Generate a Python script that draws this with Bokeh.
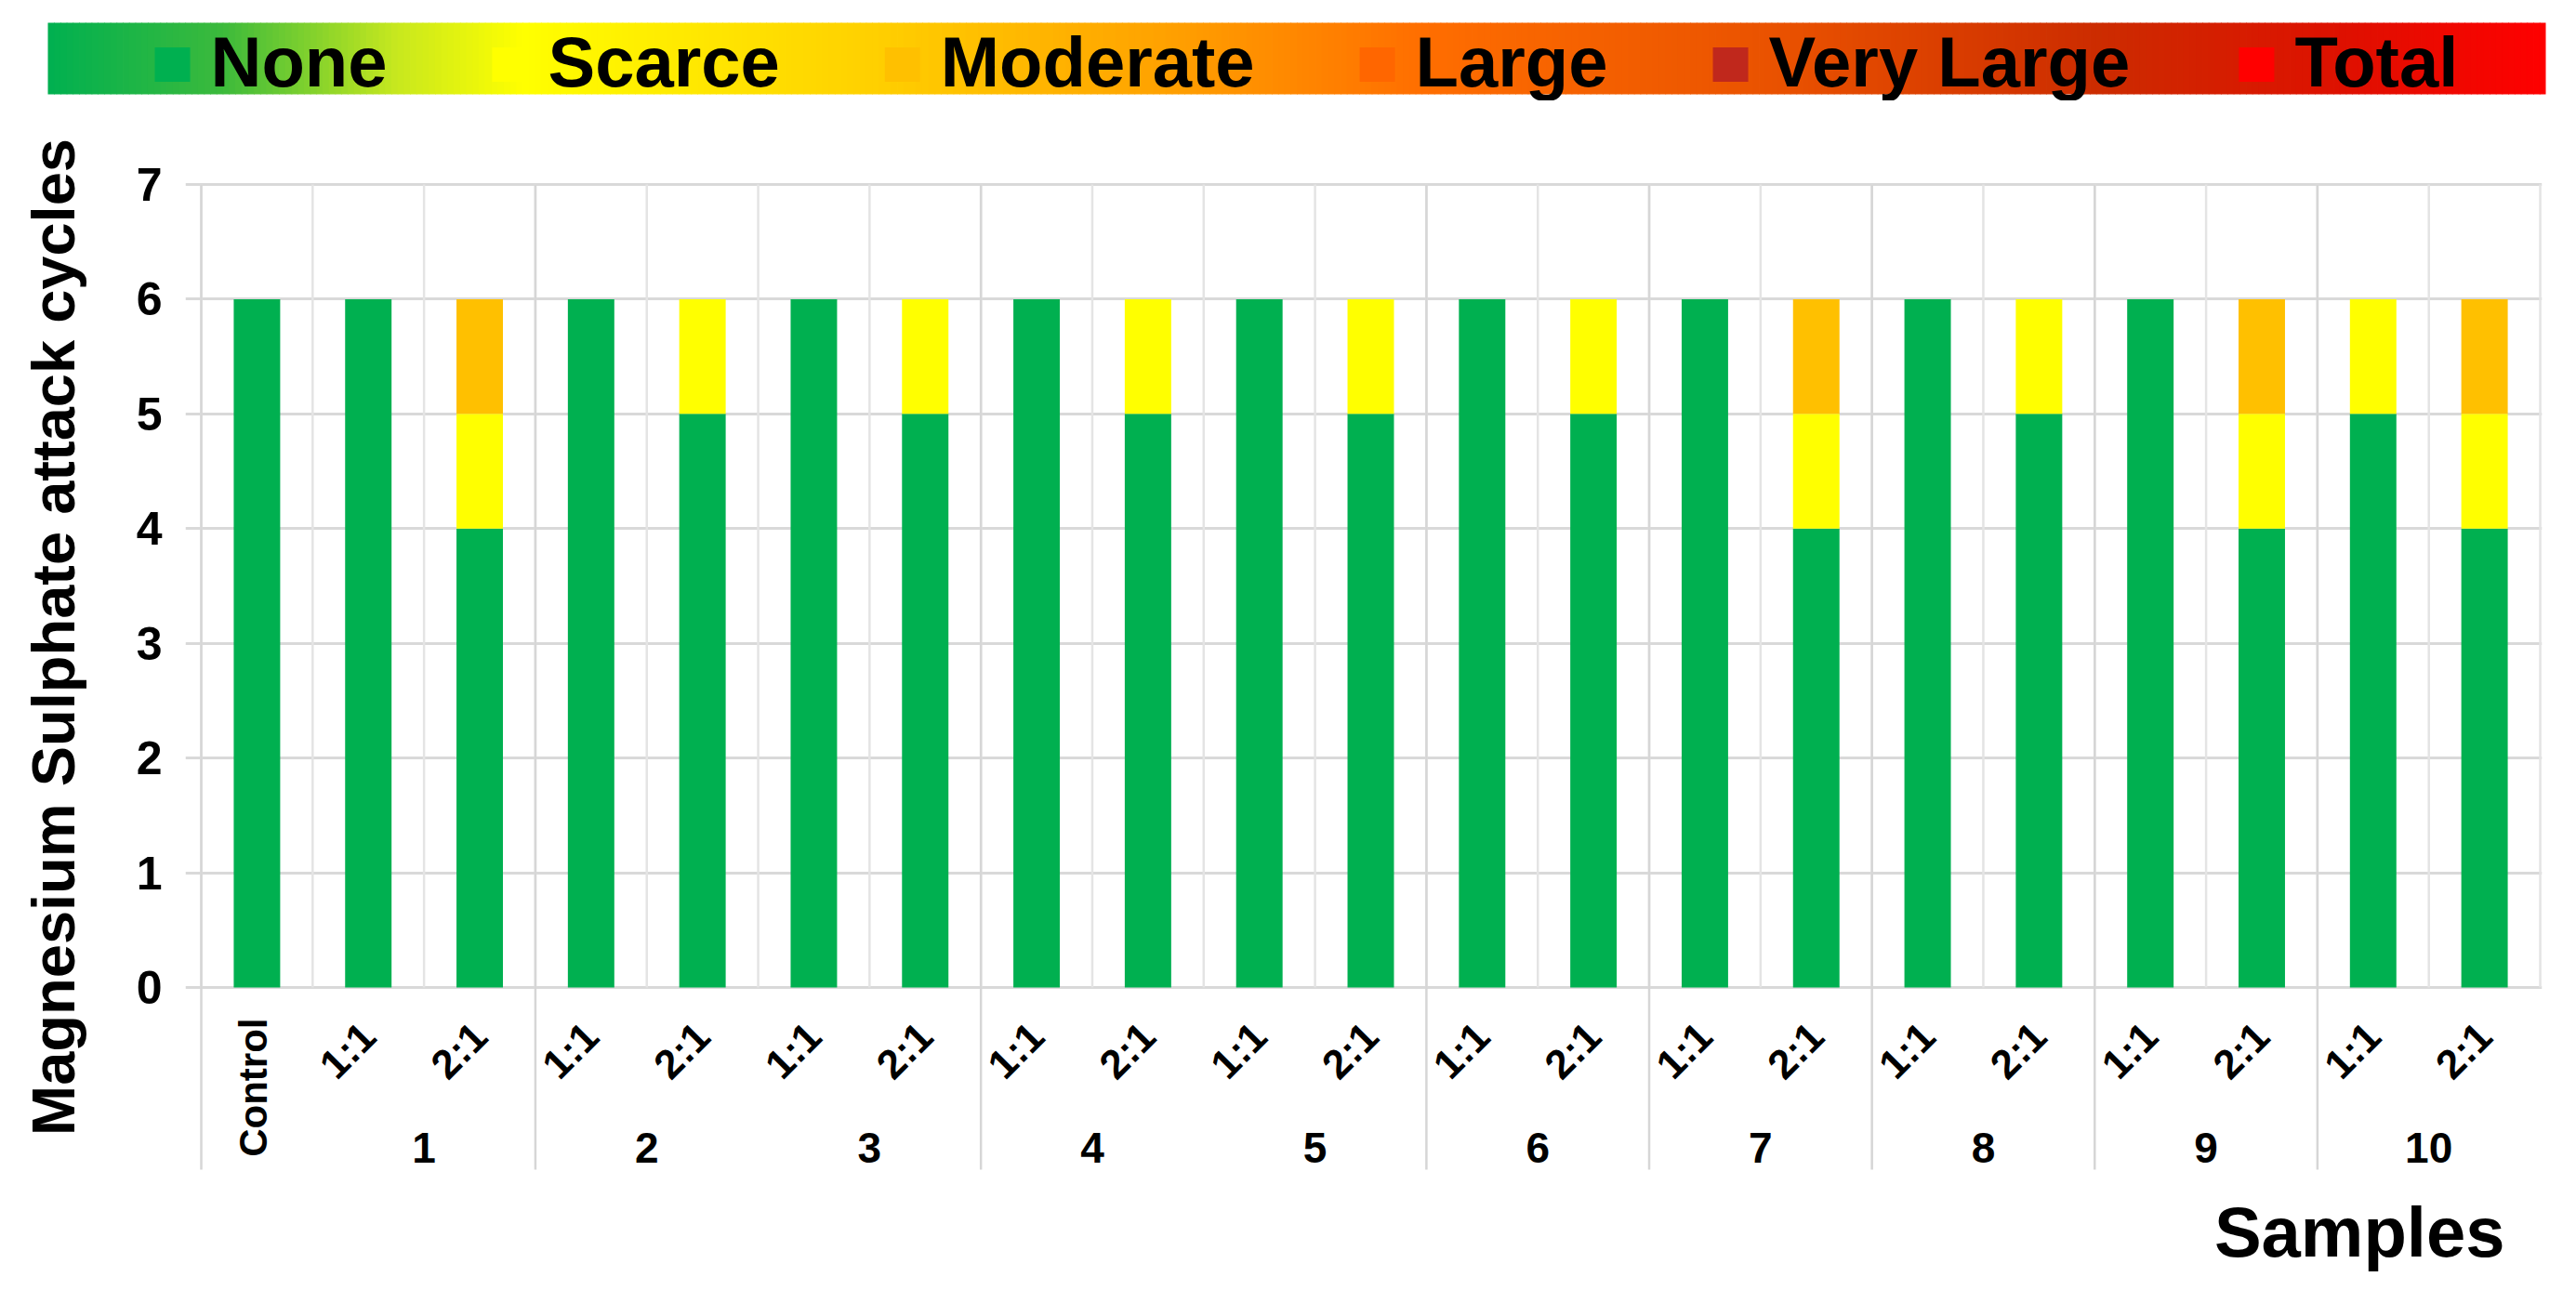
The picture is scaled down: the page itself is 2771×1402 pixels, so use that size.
import numpy as np
from bokeh.plotting import figure
from bokeh.models import Range1d, FixedTicker, ColumnDataSource, Title
from bokeh.layouts import column
from bokeh.embed import file_html
from bokeh.resources import INLINE
from bokeh.core.properties import value

# ---------------- data ----------------
bar_ratio = ["Control", "1:1", "2:1", "1:1", "2:1", "1:1", "2:1", "1:1", "2:1", "1:1", "2:1",
             "1:1", "2:1", "1:1", "2:1", "1:1", "2:1", "1:1", "2:1", "1:1", "2:1"]
bar_sample = ["", "1", "1", "2", "2", "3", "3", "4", "4", "5", "5",
              "6", "6", "7", "7", "8", "8", "9", "9", "10", "10"]
none_vals = [6, 6, 4, 6, 5, 6, 5, 6, 5, 6, 5, 6, 5, 6, 4, 6, 5, 6, 4, 5, 4]
scarce_vals = [0, 0, 1, 0, 1, 0, 1, 0, 1, 0, 1, 0, 1, 0, 1, 0, 1, 0, 1, 1, 1]
moderate_vals = [0, 0, 1, 0, 0, 0, 0, 0, 0, 0, 0, 0, 0, 0, 1, 0, 0, 0, 1, 0, 1]
large_vals = [0] * 21
very_large_vals = [0] * 21
total_vals = [0] * 21

levels = ["None", "Scarce", "Moderate", "Large", "Very Large", "Total"]
level_colors = ["#00B050", "#FFFF00", "#FFC000", "#FF6600", "#C0281C", "#FF0000"]
y_ticks = [0, 1, 2, 3, 4, 5, 6, 7]
group_breaks = [0, 3, 7, 11, 13, 15, 17, 19]

FONT = "Liberation Sans"
n = len(bar_ratio)

# ---------------- geometry (page pixels) ----------------
X_CAT0, PX_CAT = 224.0, 119.81      # left edge of first category, px per category
Y_ZERO, PX_UNIT = 1070.0, 123.43    # y=0 line, px per cycle
FR_L, FR_R, FR_T, FR_B = 207, 2742, 116, 1270
CANVAS_W = 2755


def px2x(X):
    return (X - X_CAT0) / PX_CAT


def px2y(Y):
    return (Y_ZERO - Y) / PX_UNIT


# ---------------- gradient legend band (own figure) ----------------
LEG_H = FR_T - 8
LEG_DY = 5
lg = figure(frame_width=CANVAS_W, frame_height=LEG_H, x_range=Range1d(0, CANVAS_W), y_range=Range1d(0, LEG_H),
            output_backend="svg", toolbar_location=None, min_border=0,
            x_axis_location=None, y_axis_location=None)
lg.grid.visible = False
lg.outline_line_color = None


def lx(X):
    return X - 8


def ly(Y):
    return LEG_H - (Y + LEG_DY - 8)


G_L, G_R, G_T, G_B = 59, 2746, 27, 104
stop_pos = [0.0, 0.07, 0.14, 0.19, 0.33, 0.45, 0.55, 0.70, 0.82, 0.92, 1.0]
stop_rgb = [(0, 176, 80), (60, 186, 60), (200, 232, 30), (255, 255, 0), (255, 208, 0), (255, 160, 0),
            (255, 110, 0), (232, 80, 0), (204, 44, 0), (222, 16, 0), (255, 0, 0)]
NSTRIP = 400
edges = np.linspace(G_L, G_R, NSTRIP + 1)
tmid = (np.arange(NSTRIP) + 0.5) / NSTRIP
rgb = np.stack([np.interp(tmid, stop_pos, [s[c] for s in stop_rgb]) for c in range(3)], axis=1).round().astype(int)
strip_colors = ["#%02x%02x%02x" % tuple(c) for c in rgb]
lg.quad(left=lx(edges[:-1]), right=lx(np.minimum(edges[1:] + 0.8, G_R)),
        bottom=ly(G_B), top=ly(G_T), fill_color=strip_colors, line_color=None)

# legend entries: square + label, laid out from Arial-bold advance widths
ADV = {"N": .722, "o": .611, "n": .611, "e": .556, "S": .667, "c": .556, "a": .556, "r": .389,
       "M": .833, "d": .611, "t": .333, "L": .611, "g": .611, "V": .667, "y": .556, " ": .278,
       "T": .611, "l": .278}
LEG_FS = 76
SQ_W, SQ_H, SQ_GAP, ITEM_GAP = 38, 37, 22, 113
sq_x, txt_x = [], []
cur = 174
for lab in levels:
    sq_x.append(cur)
    txt_x.append(cur + SQ_W + SQ_GAP)
    cur = cur + SQ_W + SQ_GAP + sum(ADV.get(ch, .6) for ch in lab) * LEG_FS + ITEM_GAP
lg.rect(x=[lx(x + SQ_W / 2) for x in sq_x], y=ly(72), width=SQ_W, height=SQ_H,
        fill_color=level_colors, line_color=None)
lg.text(x=[lx(x) for x in txt_x], y=ly(69), text=levels, text_align="left", text_baseline="middle",
        text_font=value(FONT), text_font_style="bold", text_font_size=f"{LEG_FS}px", text_color="black")

# ---------------- main chart ----------------
src = ColumnDataSource(dict(
    x=np.arange(n) + 0.5,
    **{"None": none_vals, "Scarce": scarce_vals, "Moderate": moderate_vals,
       "Large": large_vals, "Very Large": very_large_vals, "Total": total_vals}))

p = figure(frame_width=FR_R - FR_L, frame_height=FR_B - FR_T,
           x_range=Range1d(px2x(FR_L), px2x(FR_R)), y_range=Range1d(px2y(FR_B), px2y(FR_T)),
           output_backend="svg", toolbar_location=None,
           min_border_left=FR_L - 8, min_border_right=CANVAS_W + 8 - FR_R, min_border_top=0,
           min_border_bottom=1394 - FR_B)
p.outline_line_color = None
p.xaxis.visible = False
p.xgrid.visible = False
p.ygrid.ticker = FixedTicker(ticks=y_ticks)
p.ygrid.grid_line_color = "#d9d9d9"
p.ygrid.grid_line_width = 3

# keep the two stacked figures from aligning their frames
for fig in (lg, p):
    if "frame_align" in fig.properties():
        fig.frame_align = False

ax = p.yaxis[0]
ax.ticker = FixedTicker(ticks=y_ticks)
ax.axis_line_color = None
ax.major_tick_line_color = None
ax.minor_tick_line_color = None
ax.major_label_standoff = 19
ax.major_label_text_font = FONT
ax.major_label_text_font_style = "bold"
ax.major_label_text_font_size = "50px"
ax.major_label_text_color = "black"
ax.axis_label = "Magnesium Sulphate attack cycles"
ax.axis_label_text_font = FONT
ax.axis_label_text_font_style = "bold"
ax.axis_label_text_font_size = "65px"
ax.axis_label_text_color = "black"
ax.axis_label_standoff = 50

# vertical gridlines between categories
bounds = np.arange(n + 1)
p.segment(x0=bounds, y0=0, x1=bounds, y1=max(y_ticks), line_color="#e4e4e4", line_width=2.5)
# group separators extending below the axis
p.segment(x0=group_breaks, y0=px2y(1266), x1=group_breaks, y1=max(y_ticks),
          line_color="#d6d6d6", line_width=2.5)

p.vbar_stack(levels, x="x", width=0.417, source=src, fill_color=level_colors, line_color=None)

# category labels
ctrl_idx = [i for i, r in enumerate(bar_ratio) if r == "Control"]
rat_idx = [i for i, r in enumerate(bar_ratio) if r != "Control"]
p.text(x=[i + 0.47 for i in ctrl_idx], y=[px2y(1103)] * len(ctrl_idx), text=[bar_ratio[i] for i in ctrl_idx],
       angle=np.pi / 2, text_align="right", text_baseline="middle",
       text_font=value(FONT), text_font_style="bold", text_font_size="42px", text_color="black")
p.text(x=[i + 0.5 for i in rat_idx], y=[px2y(1115)] * len(rat_idx), text=[bar_ratio[i] for i in rat_idx],
       angle=np.pi / 4, text_align="right", text_baseline="middle",
       text_font=value(FONT), text_font_style="bold", text_font_size="44px", text_color="black")

# sample group labels
samples = []
for s in bar_sample:
    if s and s not in samples:
        samples.append(s)
sample_x = [np.mean([i + 0.5 for i, b in enumerate(bar_sample) if b == s]) for s in samples]
p.text(x=sample_x, y=[px2y(1242)] * len(samples), text=samples, text_align="center", text_baseline="middle",
       text_font=value(FONT), text_font_style="bold", text_font_size="46px", text_color="black")

p.add_layout(Title(text="Samples", align="right", offset=40, standoff=37,
                   text_font=FONT, text_font_style="bold", text_font_size="76px",
                   text_color="black"), "below")

layout = column(lg, p)
open("out.html", "w").write(file_html(layout, INLINE))
